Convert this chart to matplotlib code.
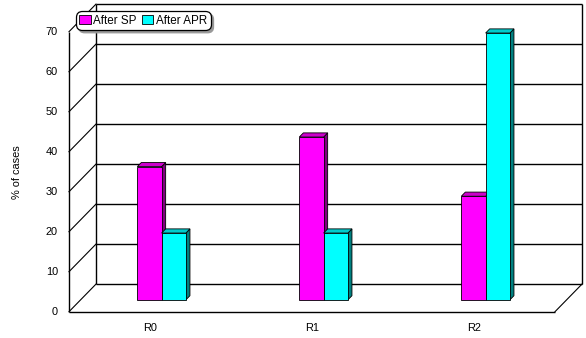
import matplotlib
matplotlib.use("Agg")
import matplotlib.pyplot as plt
from matplotlib.patches import Polygon, Patch

plt.rcParams['font.family'] = ['Liberation Sans', 'DejaVu Sans']

categories = ['R0', 'R1', 'R2']
after_sp = [33.3, 40.7, 25.9]
after_apr = [16.7, 16.7, 66.7]
series_names = ['After SP', 'After APR']
y_ticks = [0, 10, 20, 30, 40, 50, 60, 70]

fig = plt.figure(figsize=(5.86, 3.38), dpi=100)
ax = fig.add_axes([0, 0, 1, 1])
ax.set_xlim(0, 586)
ax.set_ylim(-6.575, 77.925)
ax.axis('off')

# oblique projection: depth z in [0, 1] shifts right (pixels) and up (value units)
DX, DY = 27.0, 6.9
x_front, x_right = 69.0, 555.0
ymax = 70


def proj(x, y, z):
    return (x + DX * z, y + DY * z)


line_kw = dict(color='black', lw=1.0, solid_capstyle='butt', zorder=1)

# left wall
ax.plot([x_front, x_front], [0, ymax], **line_kw)
ax.plot([x_front + DX, x_front + DX], [DY, ymax + DY], **line_kw)
for t in y_ticks:
    ax.plot([x_front, x_front + DX], [t, t + DY], color='black', lw=0.8, zorder=1)
    # back wall gridlines
    ax.plot([x_front + DX, x_right + DX], [t + DY, t + DY], **line_kw)
    ax.text(x_front - 11, t, str(t), ha='right', va='center', fontsize=7.9)

# right edge of back wall and floor
ax.plot([x_right + DX, x_right + DX], [DY, ymax + DY], **line_kw)
ax.plot([x_front, x_right], [0, 0], **line_kw)
ax.plot([x_right, x_right + DX], [0, DY], color='black', lw=0.8, zorder=1)

ax.text(17.5, 35, '% of cases', rotation=90, ha='center', va='center', fontsize=7.9)

# bars
n = len(categories)
slot = (x_right - x_front) / n
bar_w = 24.3
z0, z1 = 0.43, 0.58
faces = [('#FF00FF', '#CC00CC', '#800080'), ('#00FFFF', '#00CCCC', '#008080')]

for i, cat in enumerate(categories):
    cx = x_front + slot * (i + 0.5)
    ax.text(cx, -4.1, cat, ha='center', va='center', fontsize=7.9)
    for j, vals in enumerate([after_sp, after_apr]):
        v = vals[i]
        xl = cx + (j - 1) * bar_w
        xr = xl + bar_w
        front_c, top_c, side_c = faces[j]
        front = [proj(xl, 0, z0), proj(xr, 0, z0), proj(xr, v, z0), proj(xl, v, z0)]
        side = [proj(xr, 0, z0), proj(xr, 0, z1), proj(xr, v, z1), proj(xr, v, z0)]
        top = [proj(xl, v, z0), proj(xr, v, z0), proj(xr, v, z1), proj(xl, v, z1)]
        for pts, c in [(side, side_c), (top, top_c), (front, front_c)]:
            ax.add_patch(Polygon(pts, closed=True, facecolor=c, edgecolor='black',
                                 lw=0.6, zorder=3 + j))

handles = [Patch(facecolor=faces[k][0], edgecolor='black', lw=0.6) for k in range(2)]
leg = ax.legend(handles, series_names, loc='upper left', ncol=2,
                bbox_to_anchor=(76 / 586, 1 - 11 / 338), borderaxespad=0,
                fontsize=8.4, handlelength=0.95, handleheight=0.8, handletextpad=0.25,
                columnspacing=0.45, borderpad=0.3, fancybox=True,
                shadow={'color': '0.6', 'alpha': 1.0}, framealpha=1)
frame = leg.get_frame()
frame.set_edgecolor('black')
frame.set_linewidth(0.9)
frame.set_boxstyle('round,pad=0.0,rounding_size=0.5')
leg.set_zorder(10)

fig.savefig('out.png', dpi=100)
